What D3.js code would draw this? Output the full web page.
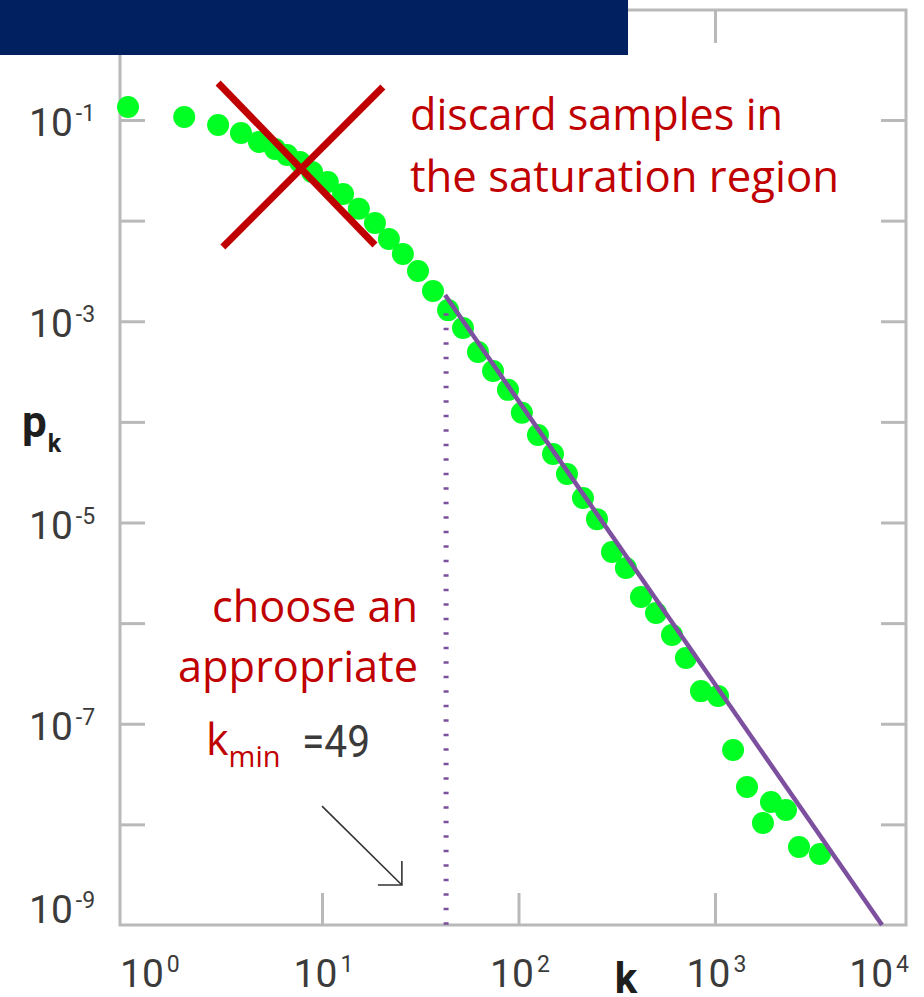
<!DOCTYPE html>
<html>
<head>
<meta charset="utf-8">
<script src="https://cdn.jsdelivr.net/npm/d3@7"></script>
<style>
  html, body { margin: 0; padding: 0; background: #ffffff; }
  svg { display: block; }
</style>
</head>
<body>
<script>
// ---------------- data ----------------
const degreeK = [1.03, 1.99, 2.96, 3.87, 4.78, 5.77, 6.64, 7.73, 8.9, 10.7,
  12.8, 15.4, 18.6, 21.9, 25.8, 30.8, 36.7, 43.8, 52.2, 62.2,
  74.2, 88.4, 104, 125.6, 149.8, 176.5, 212.9, 250.8, 299, 352,
  420, 501, 604, 711, 848, 1036, 1236, 1455, 1754, 1927,
  2297, 2676, 3420];
const probPk = [0.1345, 0.107, 0.0892, 0.0743, 0.0605, 0.0515, 0.0449, 0.0383, 0.0304, 0.0242,
  0.0184, 0.0131, 0.00947, 0.00657, 0.00466, 0.00316, 0.0020, 0.00129, 8.57e-4, 4.95e-4,
  3.2e-4, 2.08e-4, 1.23e-4, 7.41e-5, 4.8e-5, 3.03e-5, 1.75e-5, 1.08e-5, 5.09e-6, 3.53e-6,
  1.82e-6, 1.26e-6, 7.62e-7, 4.5e-7, 2.11e-7, 1.89e-7, 5.48e-8, 2.35e-8, 1.03e-8, 1.67e-8,
  1.39e-8, 5.96e-9, 5.08e-9];

// fitted power law (end points of the purple line)
const fitK = [42.3, 7080];
const fitP = [1.82e-3, 1e-9];

// k_min marker (dotted vertical line)
const kminLineK = [42.8, 42.8];
const kminLineP = [1.2e-3, 1e-9];

// axis ticks
const xTickValues = [1, 10, 100, 1000, 10000];
const xTickExponents = ["0", "1", "2", "3", "4"];
const xTickMarks = [10, 100, 1000];
const yTickValues = [1e-1, 1e-3, 1e-5, 1e-7, 1e-9];
const yTickExponents = ["-1", "-3", "-5", "-7", "-9"];
const yTickMarks = [1e-1, 1e-2, 1e-3, 1e-4, 1e-5, 1e-6, 1e-7, 1e-8];

// annotation texts
const noteDiscard = ["discard samples in", "the saturation region"];
const noteChoose = ["choose an", "appropriate"];
const kminText = "=49";

// ---------------- layout ----------------
const W = 924, H = 997;
const L = 120, R = 906, T = 10, B = 925;

const svg = d3.select("body").append("svg")
  .attr("width", W).attr("height", H)
  .attr("viewBox", `0 0 ${W} ${H}`);
svg.append("rect").attr("width", W).attr("height", H).attr("fill", "#fff");

const x = d3.scaleLog().domain([Math.pow(10, -0.028), Math.pow(10, 3.972)]).range([L, R]);
const y = d3.scaleLog().domain([1e-9, Math.pow(10, 0.0932)]).range([B, T]);

const frameColor = "#b9b9b9";
const tickFont = "Roboto, 'DejaVu Sans', sans-serif";
const tickColor = "#3b3b3b";
const red = "#c00000";
const purple = "#7d4f9f";

// frame
svg.append("rect")
  .attr("x", L).attr("y", T).attr("width", R - L).attr("height", B - T)
  .attr("fill", "none").attr("stroke", frameColor).attr("stroke-width", 3);

function styleAxis(g) {
  g.select(".domain").remove();
  g.selectAll(".tick line").attr("stroke", frameColor).attr("stroke-width", 3);
  g.selectAll(".tick text").remove();
}
svg.append("g").attr("transform", `translate(0,${B})`)
  .call(d3.axisBottom(x).tickValues(xTickMarks).tickSizeInner(-32).tickSizeOuter(0).tickFormat(""))
  .call(styleAxis);
svg.append("g").attr("transform", `translate(0,${T})`)
  .call(d3.axisTop(x).tickValues(xTickMarks).tickSizeInner(-33).tickSizeOuter(0).tickFormat(""))
  .call(styleAxis);
svg.append("g").attr("transform", `translate(${L},0)`)
  .call(d3.axisLeft(y).tickValues(yTickMarks).tickSizeInner(-25).tickSizeOuter(0).tickFormat(""))
  .call(styleAxis);
svg.append("g").attr("transform", `translate(${R},0)`)
  .call(d3.axisRight(y).tickValues(yTickMarks).tickSizeInner(-25).tickSizeOuter(0).tickFormat(""))
  .call(styleAxis);

// power-of-ten label builder (single text element with a superscript tspan)
function powLabel(parent, exp) {
  const t = parent.append("text")
    .attr("font-family", tickFont).attr("font-weight", 400)
    .attr("fill", tickColor);
  t.append("tspan").attr("font-size", 39).text("10");
  t.append("tspan").attr("font-size", 23).attr("dx", 3).attr("dy", -15).text(exp);
  const w = t.node().getComputedTextLength();
  return { t, w };
}

// x tick labels: centred on the tick, kept inside the frame
xTickValues.forEach((v, i) => {
  const lab = powLabel(svg, xTickExponents[i]);
  let left = x(v) - lab.w / 2;
  left = Math.max(L, Math.min(R - lab.w, left));
  lab.t.attr("x", left).attr("y", 987);
});

// y tick labels
yTickValues.forEach((v, i) => {
  const lab = powLabel(svg, yTickExponents[i]);
  const base = Math.min(y(v) + 16, B - 2);
  lab.t.attr("x", 29).attr("y", base);
});

// axis titles
const pk = svg.append("text").attr("x", 22).attr("y", 437)
  .attr("font-family", tickFont).attr("font-weight", 700).attr("fill", "#1e1e1e");
pk.append("tspan").attr("font-size", 44).text("p");
pk.append("tspan").attr("font-size", 25).attr("dy", 15).attr("dx", 1).text("k");

svg.append("text").attr("x", 626).attr("y", 993).attr("text-anchor", "middle")
  .attr("font-family", tickFont).attr("font-weight", 700).attr("font-size", 42)
  .attr("fill", "#1e1e1e").text("k");

// ---------------- marks ----------------
const pts = degreeK.map((k, i) => ({ k, p: probPk[i] }));
svg.append("g").selectAll("circle").data(pts).join("circle")
  .attr("cx", d => x(d.k)).attr("cy", d => y(d.p)).attr("r", 11)
  .attr("fill", "#00ff22");

// dotted k_min line
svg.append("path")
  .attr("d", d3.line().x(d => x(d[0])).y(d => y(d[1]))(d3.zip(kminLineK, kminLineP)))
  .attr("stroke", purple).attr("stroke-width", 5).attr("fill", "none")
  .attr("stroke-dasharray", "2.4 12.1");

// fitted line
svg.append("path")
  .attr("d", d3.line().x(d => x(d[0])).y(d => y(d[1]))(d3.zip(fitK, fitP)))
  .attr("stroke", purple).attr("stroke-width", 4.5).attr("fill", "none");

// red cross over the saturation region (data coordinates)
const crossK = [[2.96, 18.6], [20.4, 3.13]];
const crossP = [[0.2333, 5.73e-3], [0.213, 5.47e-3]];
crossK.forEach((ks, i) => {
  svg.append("line")
    .attr("x1", x(ks[0])).attr("y1", y(crossP[i][0]))
    .attr("x2", x(ks[1])).attr("y2", y(crossP[i][1]))
    .attr("stroke", red).attr("stroke-width", 7);
});

// arrow towards k_min
const arrowK = [10.0, 25.5], arrowP = [1.52e-8, 2.5e-9];
const ax1 = x(arrowK[0]), ay1 = y(arrowP[0]), ax2 = x(arrowK[1]), ay2 = y(arrowP[1]);
svg.append("line").attr("x1", ax1).attr("y1", ay1).attr("x2", ax2).attr("y2", ay2)
  .attr("stroke", "#333").attr("stroke-width", 1.6);
svg.append("path").attr("d", `M${ax2},${ay2 - 24} L${ax2},${ay2} L${ax2 - 24},${ay2}`)
  .attr("stroke", "#333").attr("stroke-width", 1.6).attr("fill", "none");

// ---------------- annotations ----------------
const noteFont = "'Open Sans', 'Noto Sans', sans-serif";
const discardW = [373, 429];
noteDiscard.forEach((t, i) => {
  svg.append("text").attr("x", 410).attr("y", 130 + i * 62)
    .attr("font-family", noteFont).attr("font-size", 43).attr("fill", red)
    .attr("textLength", discardW[i]).attr("lengthAdjust", "spacingAndGlyphs")
    .text(t);
});
const chooseW = [206, 240];
noteChoose.forEach((t, i) => {
  svg.append("text").attr("x", 418 - chooseW[i]).attr("y", 622 + i * 60)
    .attr("font-family", noteFont).attr("font-size", 43).attr("fill", red)
    .attr("textLength", chooseW[i]).attr("lengthAdjust", "spacingAndGlyphs")
    .text(t);
});
const kmin = svg.append("text").attr("x", 206).attr("y", 755)
  .attr("font-family", noteFont).attr("fill", red);
kmin.append("tspan").attr("font-size", 43).text("k");
kmin.append("tspan").attr("font-size", 29).attr("dy", 12).attr("dx", 0).text("min");
svg.append("text").attr("x", 302).attr("y", 757)
  .attr("font-family", tickFont).attr("font-weight", 400).attr("font-size", 45).attr("fill", tickColor)
  .attr("textLength", 68).attr("lengthAdjust", "spacingAndGlyphs").text(kminText);

// title bar
svg.append("rect").attr("x", 0).attr("y", 0).attr("width", 628).attr("height", 55)
  .attr("fill", "#002060");
</script>
</body>
</html>
